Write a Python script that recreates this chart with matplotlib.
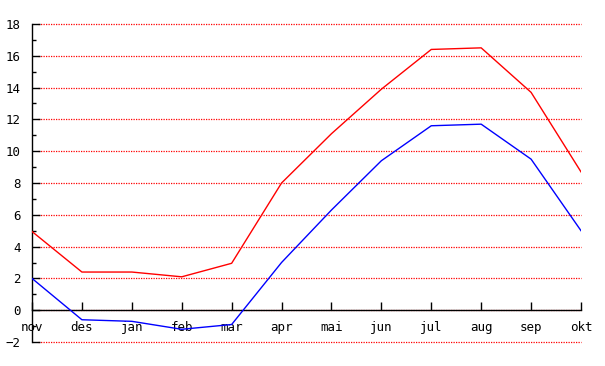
import matplotlib
matplotlib.use("Agg")
import matplotlib.pyplot as plt
from matplotlib.ticker import MultipleLocator

months = ["nov", "des", "jan", "feb", "mar", "apr", "mai", "jun", "jul", "aug", "sep", "okt"]
max_temp = [4.95, 2.4, 2.4, 2.1, 2.95, 8.0, 11.1, 13.9, 16.4, 16.5, 13.7, 8.7]
min_temp = [2.0, -0.6, -0.7, -1.2, -0.9, 3.0, 6.3, 9.4, 11.6, 11.7, 9.5, 5.0]
y_ticks = list(range(-2, 19, 2))

fig = plt.figure(figsize=(6.05, 3.66), dpi=100)
ax = fig.add_axes([32/605, 24/366, 549/605, 318/366])

x = list(range(len(months)))
for yv in y_ticks:
    ax.axhline(yv, xmin=6/549, color="red", linestyle=(0, (1, 1)), linewidth=0.9,
               zorder=1, clip_on=False)

ax.plot(x, max_temp, color="red", linewidth=1.0, zorder=3)
ax.plot(x, min_temp, color="blue", linewidth=1.0, zorder=3)

ax.set_xlim(0, len(months) - 1)
ax.set_ylim(-2, 18)
ax.spines["top"].set_visible(False)
ax.spines["right"].set_visible(False)
ax.spines["bottom"].set_position(("data", 0))
ax.spines["left"].set_linewidth(1.0)
ax.spines["bottom"].set_linewidth(1.0)

ax.set_xticks(x)
ax.set_xticklabels(months, family="DejaVu Sans Mono", fontsize=9)
ax.set_yticks(y_ticks)
ax.set_yticklabels([str(v).replace("-", "\u2212") for v in y_ticks], family="DejaVu Sans Mono", fontsize=9)
ax.yaxis.set_minor_locator(MultipleLocator(1))
ax.tick_params(axis="x", direction="in", length=6, width=1, pad=8)
ax.tick_params(axis="y", which="major", direction="in", length=6, width=1, pad=8)
ax.tick_params(axis="y", which="minor", direction="in", length=3, width=1)

fig.savefig("out.png", dpi=100)
